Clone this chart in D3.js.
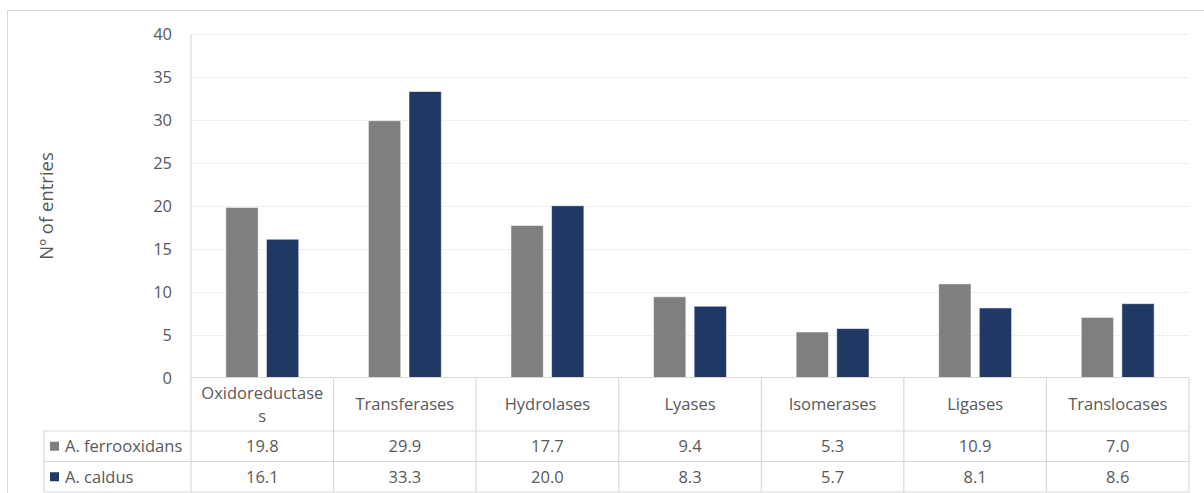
<!DOCTYPE html>
<html>
<head>
<meta charset="utf-8">
<script src="https://cdn.jsdelivr.net/npm/d3@7"></script>
<style>
  html, body { margin: 0; padding: 0; background: #fff; }
  svg { display: block; }
  text { font-family: "Open Sans", Lato, sans-serif; fill: #595959; }
</style>
</head>
<body>
<svg id="chart" width="1204" height="493"></svg>
<script>
// Enzyme classes (EC top level) and entry counts per organism
const categories = ["Oxidoreductases", "Transferases", "Hydrolases", "Lyases", "Isomerases", "Ligases", "Translocases"];
const categoryLines = [["Oxidoreductase", "s"], ["Transferases"], ["Hydrolases"], ["Lyases"], ["Isomerases"], ["Ligases"], ["Translocases"]];
const seriesNames = ["A. ferrooxidans", "A. caldus"];
const ferrooxidans = [19.8, 29.9, 17.7, 9.4, 5.3, 10.9, 7.0];
const caldus = [16.1, 33.3, 20.0, 8.3, 5.7, 8.1, 8.6];
const yTicks = [0, 5, 10, 15, 20, 25, 30, 35, 40];
const seriesColors = ["#7f7f7f", "#1f3864"];
const yTitle = "Nº of entries";

const seriesValues = [ferrooxidans, caldus];

const svg = d3.select("#chart");
const plotLeft = 191, plotRight = 1189, plotTop = 34, plotBottom = 377.5;
const tableRows = [377.5, 431, 461.5, 492];
const legendLeft = 44;
const borderColor = "#d9d9d9";
const fs = 16.5;

// outer chart frame
svg.append("path")
  .attr("d", `M7.5,493 L7.5,10.5 L1204,10.5`)
  .attr("fill", "none").attr("stroke", borderColor).attr("stroke-width", 1);

const x0 = d3.scaleBand().domain(categories).range([plotLeft, plotRight]).padding(0);
const x1 = d3.scaleBand().domain(seriesNames).range([0, x0.bandwidth()])
  .paddingInner(0.204).paddingOuter(0.858);
const y = d3.scaleLinear().domain([0, 40]).range([plotBottom, plotTop]);

// horizontal gridlines
svg.append("g").selectAll("line").data(yTicks.filter(t => t > 0)).join("line")
  .attr("x1", plotLeft).attr("x2", plotRight)
  .attr("y1", d => Math.round(y(d)) + 0.5).attr("y2", d => Math.round(y(d)) + 0.5)
  .attr("stroke", "#efefef").attr("stroke-width", 1.2);

// y axis tick labels
const yAxis = d3.axisLeft(y).tickValues(yTicks).tickSize(0).tickPadding(0);
const gy = svg.append("g").attr("transform", `translate(172,0)`).call(yAxis);
gy.select(".domain").remove();
gy.selectAll("text").attr("font-size", fs).attr("font-family", null).attr("fill", "#595959").attr("dy", "0.36em");

// y axis title
svg.append("text")
  .attr("transform", `translate(46,206) rotate(-90)`)
  .attr("text-anchor", "middle").attr("dy", "0.36em").attr("font-size", 18.5)
  .text(yTitle);

// bars
const groups = svg.append("g").selectAll("g").data(categories).join("g")
  .attr("transform", d => `translate(${x0(d)},0)`);
groups.selectAll("rect")
  .data((c, i) => seriesNames.map((s, j) => ({ s, j, v: seriesValues[j][i] })))
  .join("rect")
  .attr("x", d => x1(d.s))
  .attr("width", x1.bandwidth())
  .attr("y", d => y(d.v))
  .attr("height", d => y(0) - y(d.v))
  .attr("fill", d => seriesColors[d.j])
  .attr("stroke", "#ffffff").attr("stroke-opacity", 0.55).attr("stroke-width", 1);

// data table grid
const grid = svg.append("g").attr("stroke", borderColor).attr("stroke-width", 1.2).attr("fill", "none");
// vertical axis line through plot and header
grid.append("line").attr("x1", plotLeft).attr("x2", plotLeft).attr("y1", plotTop).attr("y2", tableRows[3]);
// horizontal table lines
grid.append("line").attr("x1", plotLeft).attr("x2", plotRight).attr("y1", tableRows[0]).attr("y2", tableRows[0]);
[1, 2, 3].forEach(r => grid.append("line")
  .attr("x1", legendLeft).attr("x2", plotRight).attr("y1", tableRows[r]).attr("y2", tableRows[r]));
// column separators
categories.forEach(c => {
  const xr = x0(c) + x0.bandwidth();
  grid.append("line").attr("x1", xr).attr("x2", xr).attr("y1", tableRows[0]).attr("y2", tableRows[3]);
});
grid.append("line").attr("x1", legendLeft).attr("x2", legendLeft).attr("y1", tableRows[1]).attr("y2", tableRows[3]);

// category header cells
const headerMid = (tableRows[0] + tableRows[1]) / 2;
categories.forEach((c, i) => {
  const lines = categoryLines[i];
  const lh = 23;
  const cx = x0(c) + x0.bandwidth() / 2;
  lines.forEach((ln, k) => {
    svg.append("text")
      .attr("x", cx)
      .attr("y", headerMid + (k - (lines.length - 1) / 2) * lh)
      .attr("dy", "0.36em")
      .attr("text-anchor", "middle").attr("font-size", fs)
      .text(ln);
  });
});

// value rows with legend keys
seriesNames.forEach((s, j) => {
  const mid = (tableRows[j + 1] + tableRows[j + 2]) / 2;
  svg.append("rect")
    .attr("x", 50).attr("y", mid - 4.5).attr("width", 9).attr("height", 9)
    .attr("fill", seriesColors[j]);
  svg.append("text")
    .attr("x", 65).attr("y", mid).attr("dy", "0.36em")
    .attr("font-size", fs).text(s);
  categories.forEach((c, i) => {
    svg.append("text")
      .attr("x", x0(c) + x0.bandwidth() / 2).attr("y", mid).attr("dy", "0.36em")
      .attr("text-anchor", "middle").attr("font-size", fs)
      .text(d3.format(".1f")(seriesValues[j][i]));
  });
});
</script>
</body>
</html>
